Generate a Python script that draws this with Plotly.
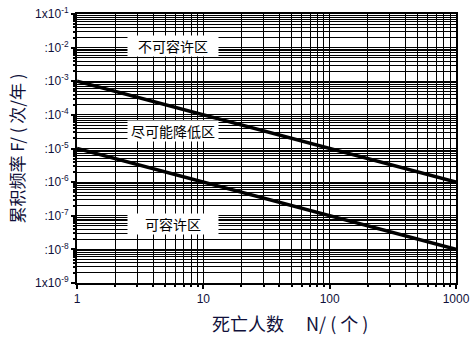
import plotly.graph_objects as go

# F-N criterion lines: cumulative frequency vs. number of fatalities
deaths = [1, 1000]
upper_limit = [1e-3, 1e-6]
lower_limit = [1e-5, 1e-8]

x_ticks = [1, 10, 100, 1000]
x_tick_text = ["1", "10", "100", "1000"]
y_ticks = [1e-1, 1e-2, 1e-3, 1e-4, 1e-5, 1e-6, 1e-7, 1e-8, 1e-9]
y_tick_text = ["1x10<sup>-1</sup>", ":10<sup>-2</sup>", ":10<sup>-3</sup>", ":10<sup>-4</sup>",
               ":10<sup>-5</sup>", ":10<sup>-6</sup>", ":10<sup>-7</sup>", ":10<sup>-8</sup>",
               "1x10<sup>-9</sup>"]

# region labels: (text, log10 x, log10 y)
regions = [("不可容许区", 0.76, -1.96), ("尽可能降低区", 0.76, -4.47), ("可容许区", 0.76, -7.26)]

CJK = "Noto Sans CJK SC, Liberation Sans, Arial"
LAT = "Liberation Sans, Arial"
INK = "#10103a"


def minor_values(decades):
    # 2..9 within each decade of the axis
    return [m * d for d in decades for m in range(2, 10)]


fig = go.Figure()
for ys in (upper_limit, lower_limit):
    fig.add_trace(go.Scatter(x=deaths, y=ys, mode="lines",
                             line=dict(color="black", width=3.5), showlegend=False))

for text, lx, ly in regions:
    fig.add_annotation(x=lx, y=ly, xref="x", yref="y", text=text, showarrow=False,
                       font=dict(family=CJK, size=14, color="black"),
                       bgcolor="white", width=88, height=18)

axis_common = dict(type="log", showline=True, linecolor="black", linewidth=2, mirror=True,
                   ticks="outside", ticklen=4, tickcolor="black", tickwidth=1.5,
                   showgrid=True, gridcolor="black", gridwidth=1.2, zeroline=False,
                   automargin=False,
                   tickfont=dict(family=LAT, size=12, color=INK))

fig.update_xaxes(range=[0, 3], tickmode="array", tickvals=x_ticks, ticktext=x_tick_text,
                 minor=dict(tickmode="array", tickvals=minor_values([1, 10, 100]),
                            showgrid=True, gridcolor="black", gridwidth=1,
                            ticks="outside", ticklen=2, tickcolor="black"),
                 **axis_common)
fig.update_yaxes(range=[-9, -1], tickmode="array", tickvals=y_ticks, ticktext=y_tick_text,
                 minor=dict(tickmode="array", tickvals=minor_values(y_ticks[1:]),
                            showgrid=True, gridcolor="black", gridwidth=1,
                            ticks="outside", ticklen=2, tickcolor="black"),
                 title=dict(text="累积频率 F/ ( 次/年 )", font=dict(family=CJK, size=17, color=INK),
                            standoff=6),
                 **axis_common)

# x-axis title, positioned in paper coordinates
plot_w = 476 - 77 - 20
plot_h = 350 - 14 - 67
fig.add_annotation(x=(290 - 77) / plot_w, y=-(323 - 283) / plot_h, xref="paper", yref="paper",
                   xanchor="center", yanchor="middle", text="死亡人数　 N/ ( 个 )",
                   showarrow=False, font=dict(family=CJK, size=18, color=INK))

fig.update_layout(width=476, height=350, margin=dict(l=77, r=20, t=14, b=67),
                  plot_bgcolor="white", paper_bgcolor="white")

fig.write_html("out.html")
